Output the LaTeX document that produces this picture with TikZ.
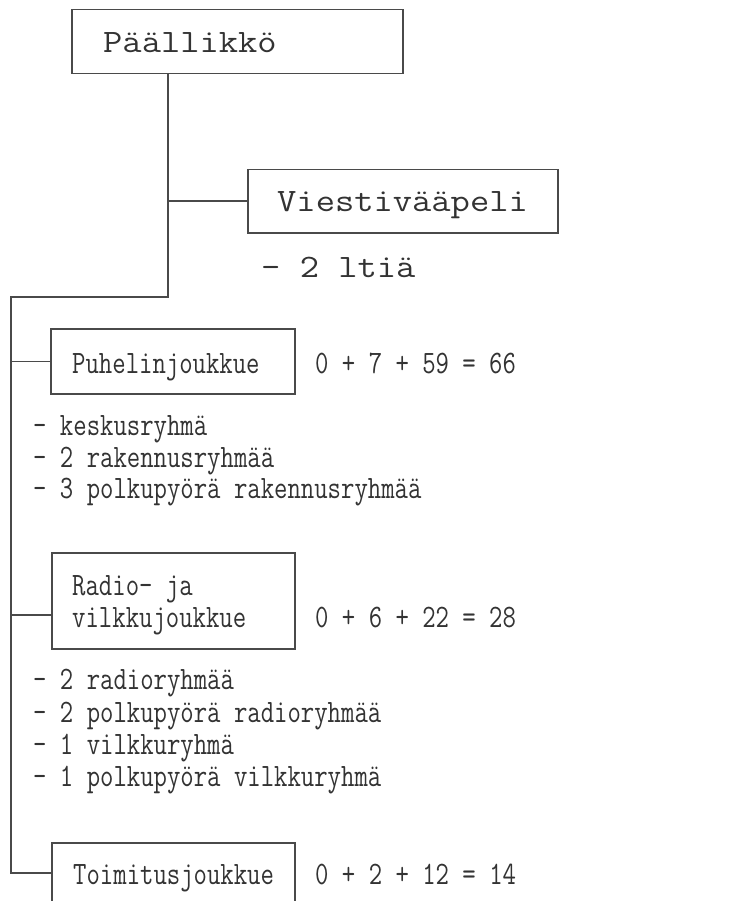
\documentclass[tikz,border=0pt]{standalone}
\usepackage{fontspec}
\usepackage{graphicx}
\newcommand{\bigt}[1]{\scalebox{1.145}[1]{#1}}
\newcommand{\smallt}[1]{\scalebox{0.795}[1]{#1}}
\definecolor{linec}{HTML}{4A4A4A}
\definecolor{textc}{HTML}{333333}
\begin{document}
\begin{tikzpicture}[x=1pt,y=-1pt,
  box/.style={draw=linec, line width=1.5pt, inner sep=0pt, anchor=north west},
  link/.style={draw=linec, line width=1.5pt},
  bigtxt/.style={font=\ttfamily\fontsize{32.7}{34}\selectfont, text=textc, anchor=base west, inner sep=0pt},
  smalltxt/.style={font=\ttfamily\fontsize{32.7}{34}\selectfont, text=textc, anchor=base west, inner sep=0pt}]
\useasboundingbox[fill=white] (0,0) rectangle (750,901);

% boxes
\node[box, minimum width=331pt, minimum height=64pt] (pb) at (71,9) {};
\node[box, minimum width=310pt, minimum height=63pt] (vb) at (247,169) {};
\node[box, minimum width=244pt, minimum height=65pt] (ub) at (50,328) {};
\node[box, minimum width=243pt, minimum height=96pt] (rbox) at (51,552) {};
\node[box, minimum width=243pt, minimum height=60pt] (tb) at (51,842) {};

% texts
\node[bigtxt] (pt) at (103,53) {\bigt{Päällikkö}};
\node[bigtxt] (vt) at (277,212) {\bigt{Viestivääpeli}};
\node[bigtxt] (vl) at (261,277) {\bigt{- 2 ltiä}};

\node[smalltxt] (ut) at (72,373) {\smallt{Puhelinjoukkue}};
\node[smalltxt] (un) at (315,373) {\smallt{0 + 7 + 59 = 66}};
\node[smalltxt] (ul1) at (33,435) {\smallt{- keskusryhmä}};
\node[smalltxt] (ul2) at (33,467) {\smallt{- 2 rakennusryhmää}};
\node[smalltxt] (ul3) at (33,498) {\smallt{- 3 polkupyörä rakennusryhmää}};

\node[smalltxt] (rt1) at (72,595) {\smallt{Radio- ja}};
\node[smalltxt] (rt2) at (72,627) {\smallt{vilkkujoukkue}};
\node[smalltxt] (rn) at (315,627) {\smallt{0 + 6 + 22 = 28}};
\node[smalltxt] (rl1) at (33,689) {\smallt{- 2 radioryhmää}};
\node[smalltxt] (rl2) at (33,722) {\smallt{- 2 polkupyörä radioryhmää}};
\node[smalltxt] (rl3) at (33,754) {\smallt{- 1 vilkkuryhmä}};
\node[smalltxt] (rl4) at (33,786) {\smallt{- 1 polkupyörä vilkkuryhmä}};

\node[smalltxt] (tt) at (73,884) {\smallt{Toimitusjoukkue}};
\node[smalltxt] (tn) at (315,884) {\smallt{0 + 2 + 12 = 14}};

% connectors
\coordinate (j1) at (168,297);
\coordinate (j0) at (11,297);
\coordinate (rb) at (51,615);
\draw[link] (pb.south -| j1) -- (j1) -- (j0) -- (j0 |- tb.west) -- (tb.west);
\draw[link] (j1 |- vb.west) -- (vb.west);
\draw[link] (j0 |- ub.west) -- (ub.west);
\draw[link] (j0 |- rb) -- (rb);
\end{tikzpicture}
\end{document}
